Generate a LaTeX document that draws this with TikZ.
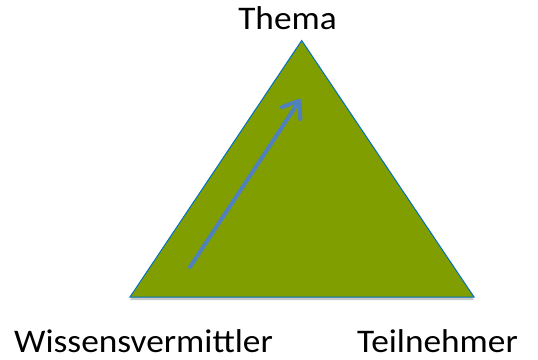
\documentclass[tikz,border=0pt]{standalone}
\usepackage{fontspec}
\setmainfont{Carlito}
\usetikzlibrary{arrows.meta,shadows}
\definecolor{olivegreen}{RGB}{128,158,0}
\definecolor{edgeblue}{RGB}{0,112,192}
\definecolor{arrowblue}{RGB}{79,129,189}
\tikzset{
  label/.style={font=\fontsize{33}{38}\selectfont, inner sep=0pt, anchor=base, xscale=1.07},
  tri/.style={fill=olivegreen, draw=edgeblue, line width=1pt, line join=miter,
    drop shadow={shadow xshift=0pt, shadow yshift=-3pt, opacity=0.35, fill=black!60}},
  arr/.style={draw=arrowblue, line width=4pt, line cap=round,
    -{Straight Barb[length=15pt,width=22pt,round]}}
}
\begin{document}
\begin{tikzpicture}[x=1pt,y=-1pt]
\useasboundingbox (0,0) rectangle (538,359);
\coordinate (top) at (301.7,40.5);
\coordinate (bl) at (130,297);
\coordinate (br) at (474,297);
\path[tri] (top) -- (br) -- (bl) -- cycle;
\coordinate (a0) at (190,267);
\coordinate (a1) at (300.5,99);
\draw[arr] (a0) -- (a1);
\node[label] (thema) at (287.5,29) {Thema};
\node[label] (wiss) at (143.5,352) {Wissensvermittler};
\node[label] (teil) at (437.5,352) {Teilnehmer};
\end{tikzpicture}
\end{document}
